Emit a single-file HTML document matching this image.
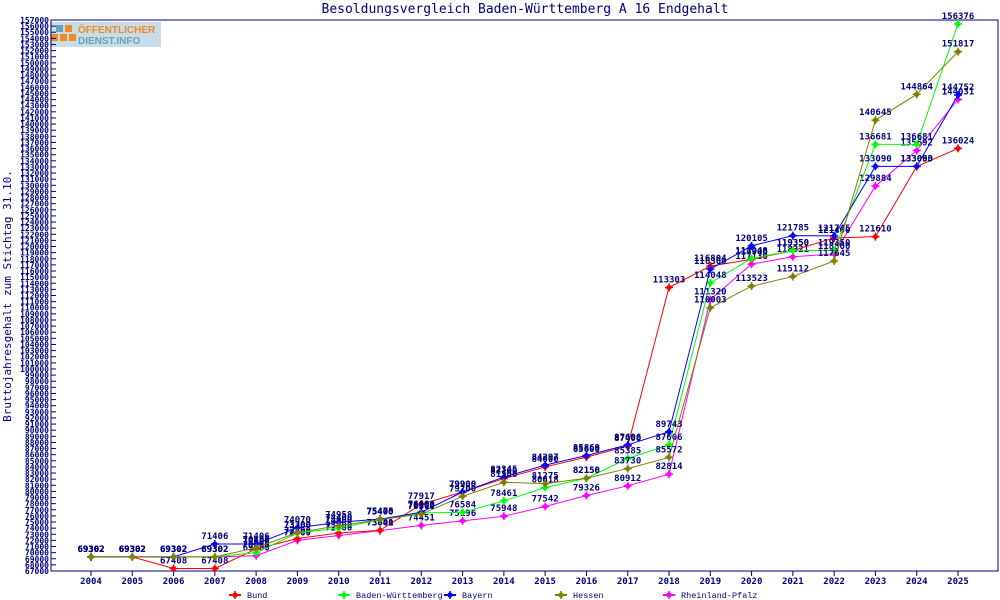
<!DOCTYPE html>
<html><head><meta charset="utf-8">
<style>
body{margin:0;background:#fff;}
svg{display:block;font-family:"DejaVu Sans Mono","Liberation Mono",monospace;}
</style></head>
<body>
<svg id="chart" width="1000" height="600" viewBox="0 0 1000 600" xmlns="http://www.w3.org/2000/svg">
<rect x="0" y="0" width="1000" height="600" fill="#fff"/>
<text x="525" y="13" text-anchor="middle" font-size="13" fill="#000080">Besoldungsvergleich Baden-Württemberg A 16 Endgehalt</text>
<text transform="translate(11,296) rotate(-90)" text-anchor="middle" font-size="11" fill="#000080">Bruttojahresgehalt zum Stichtag 31.10.</text>
<g id="logo">
<rect x="50" y="22" width="111" height="25" fill="#c8dde8"/>
<rect x="56" y="25" width="7" height="7" fill="#6aa3b5"/>
<rect x="65" y="25" width="7" height="7" fill="#f08a24"/>
<rect x="51" y="34" width="7" height="7" fill="#f08a24"/>
<rect x="60" y="34" width="7" height="7" fill="#f08a24"/>
<rect x="69" y="34" width="7" height="7" fill="#f08a24"/>
<text x="78" y="33" font-family="Liberation Sans, sans-serif" font-weight="bold" font-size="10" fill="#f08a24">ÖFFENTLICHER</text>
<text x="78" y="44" font-family="Liberation Sans, sans-serif" font-weight="bold" font-size="10" fill="#6aa3b5">DIENST.INFO</text>
</g>
<g id="axes"></g>
<g id="series"></g>
<g id="legend"></g>
</svg>
<script>
const years = [2004,2005,2006,2007,2008,2009,2010,2011,2012,2013,2014,2015,2016,2017,2018,2019,2020,2021,2022,2023,2024,2025];
const bund = [69302,69302,67408,67408,70600,72300,73200,73641,77917,79900,82100,84000,85600,87400,113303,116804,117900,119350,121400,121610,133063,136024];
const bw = [69302,69302,69302,69302,70000,73200,74000,75400,76500,76584,78461,80618,82150,85385,87606,114048,118048,119350,119350,136681,136681,156376];
const bayern = [69302,69302,69302,71406,71406,74070,74958,75475,76600,79900,82345,84297,85869,87606,89743,116300,120105,121785,121745,133090,133090,144752];
const hessen = [69302,69302,69302,69302,70800,73300,74400,75400,76300,79200,81500,81275,82158,83730,85572,110003,113523,115112,117645,140645,144864,151817];
const rlp = [69302,69302,69302,69302,69500,72000,72800,73600,74451,75196,75948,77542,79326,80912,82814,111320,117130,118321,118800,129884,135692,144031];
const seriesNames = ["Bund","Baden-Württemberg","Bayern","Hessen","Rheinland-Pfalz"];
const seriesColors = ["#ff0000","#00ff00","#0000ff","#808000","#ff00ff"];
const yMin = 67000, yMax = 157000, yStep = 1000;

const NS="http://www.w3.org/2000/svg";
const L=51,R=998,T=20,B=571;
function xs(i){return 91+i*(958-91)/(years.length-1);}
function ys(v){return B-(v-yMin)/(yMax-yMin)*(B-T);}
function mk(tag,attrs,parent){const e=document.createElementNS(NS,tag);for(const k in attrs)e.setAttribute(k,attrs[k]);parent.appendChild(e);return e;}
const axes=document.getElementById('axes');
const frame=mk('rect',{x:L,y:T,width:R-L,height:B-T,fill:'none',stroke:'#000080','stroke-width':1},axes);


for(let v=yMin;v<=yMax;v+=yStep){
  const y=ys(v);
  const t=mk('line',{x1:L,x2:L+5,y1:y,y2:y,stroke:'#000080'},axes);
  
  
  const tx=mk('text',{x:L-2,y:y+3,'text-anchor':'end','font-size':8,fill:'#000080','font-weight':'bold'},axes);
  
  
  tx.textContent=v;
}
years.forEach((yr,i)=>{
  const x=xs(i);
  const t=mk('line',{x1:x,x2:x,y1:B,y2:B+5,stroke:'#000080'},axes);
  
  
  const tx=mk('text',{x:x,y:B+13,'text-anchor':'middle','font-size':9,fill:'#000080','font-weight':'bold'},axes);
  
  
  tx.textContent=yr;
});
function marker(x,y,c,parent){
  mk('circle',{cx:x,cy:y,r:2.6,fill:c},parent);
  mk('path',{d:`M${x-4} ${y}H${x+4}M${x} ${y-4}V${y+4}`,stroke:c,'stroke-width':1.5},parent);
}
const sg=document.getElementById('series');
const allData=[bund,bw,bayern,hessen,rlp];
const drawOrder=[4,0,1,2,3];
drawOrder.forEach(si=>{
  const data=allData[si];
  const g=mk('g',{},sg);
  
  
  mk('polyline',{points:data.map((v,i)=>xs(i)+','+ys(v)).join(' '),fill:'none',stroke:seriesColors[si],'stroke-width':1},g);
  data.forEach((v,i)=>{
    marker(xs(i),ys(v),seriesColors[si],g);
    const t=mk('text',{x:xs(i),y:ys(v)-5,'text-anchor':'middle','font-size':9,fill:'#000080','font-weight':'bold'},g);
    
    
    t.textContent=v;
  });
});
const lg=document.getElementById('legend');
const lx=[235,344,450,561,669];
seriesNames.forEach((n,i)=>{
  const g=mk('g',{},lg);
  
  
  mk('line',{x1:lx[i]-6,x2:lx[i]+6,y1:595,y2:595,stroke:seriesColors[i],'stroke-width':2},g);
  marker(lx[i],595,seriesColors[i],g);
  const t=mk('text',{x:lx[i]+12,y:598,'font-size':8.5,fill:'#000080','font-family':'Liberation Mono, monospace'},g);
  t.textContent=n;
});
</script>
</body></html>
